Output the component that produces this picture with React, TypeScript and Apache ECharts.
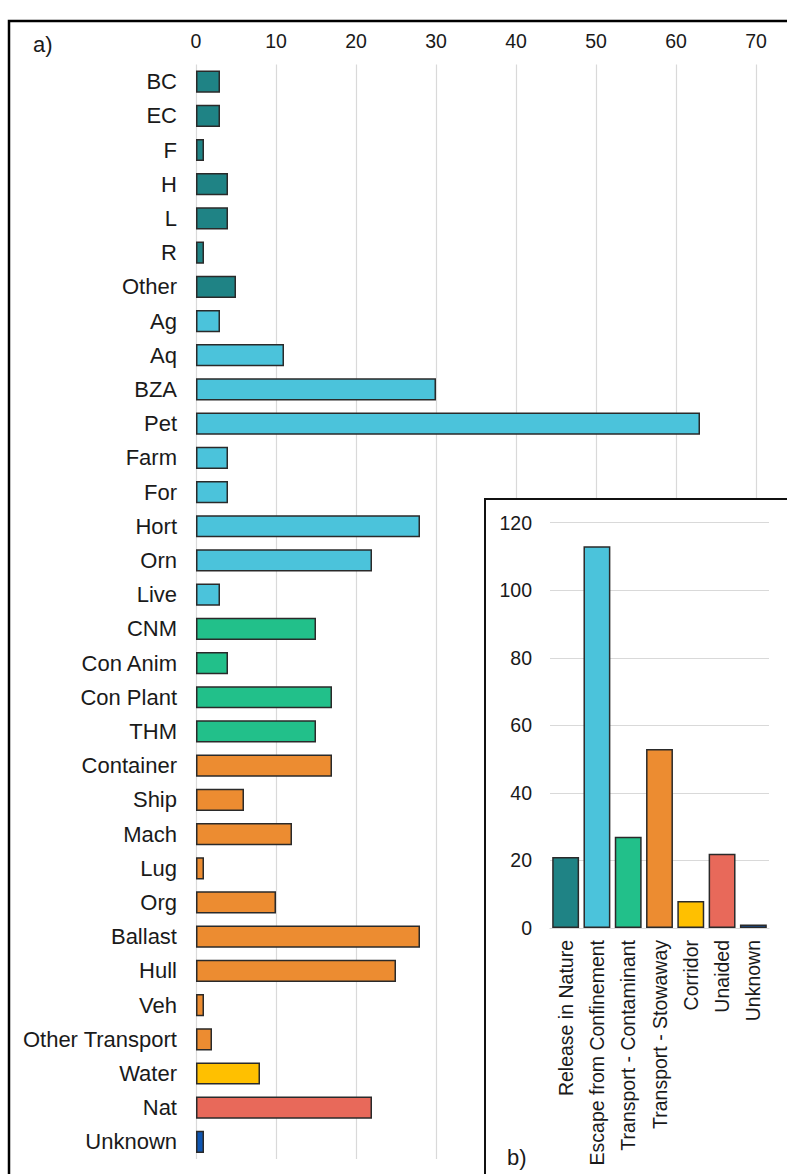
import React, { useEffect, useRef } from "react";
import * as echarts from "echarts";

// Pathway groups and their fill colours
const groupColors = ["#1F8385", "#4BC3DB", "#22C08A", "#EC8C31", "#FFC000", "#E8695A", "#0E56B2"];

// a) species counts per sub-pathway
const subCategories = [
  "BC", "EC", "F", "H", "L", "R", "Other",
  "Ag", "Aq", "BZA", "Pet", "Farm", "For", "Hort", "Orn", "Live",
  "CNM", "Con Anim", "Con Plant", "THM",
  "Container", "Ship", "Mach", "Lug", "Org", "Ballast", "Hull", "Veh", "Other Transport",
  "Water", "Nat", "Unknown",
];
const subValues = [
  3, 3, 1, 4, 4, 1, 5,
  3, 11, 30, 63, 4, 4, 28, 22, 3,
  15, 4, 17, 15,
  17, 6, 12, 1, 10, 28, 25, 1, 2,
  8, 22, 1,
];
const subGroups = [
  0, 0, 0, 0, 0, 0, 0,
  1, 1, 1, 1, 1, 1, 1, 1, 1,
  2, 2, 2, 2,
  3, 3, 3, 3, 3, 3, 3, 3, 3,
  4, 5, 6,
];
const subTicks = [0, 10, 20, 30, 40, 50, 60, 70];

// b) species counts per main pathway
const mainCategories = [
  "Release in Nature",
  "Escape from Confinement",
  "Transport - Contaminant",
  "Transport - Stowaway",
  "Corridor",
  "Unaided",
  "Unknown",
];
const mainValues = [21, 113, 27, 53, 8, 22, 1];
const mainTicks = [0, 20, 40, 60, 80, 100, 120];

const FONT = "'Liberation Sans', Arial, sans-serif";
const TEXT = "#1a1a1a";
const GRID_LINE = "#d9d9d9";
const BORDER = "#2a2a2a";

export default function App() {
  const ref = useRef<HTMLDivElement>(null);

  useEffect(() => {
    if (!ref.current) return;
    const chart = echarts.init(ref.current, undefined, { renderer: "svg" });

    const option = {
      animation: false,
      backgroundColor: "#ffffff",
      textStyle: { fontFamily: FONT },
      grid: [
        { left: 196, right: 31, top: 64.5, bottom: 15 },
        { left: 550, right: 18, top: 522.7, bottom: 246 },
      ],
      xAxis: [
        {
          type: "value",
          gridIndex: 0,
          position: "top",
          min: subTicks[0],
          max: subTicks[subTicks.length - 1],
          interval: 10,
          z: 0,
          axisLine: { show: false },
          axisTick: { show: false },
          axisLabel: { fontSize: 19.5, color: TEXT, fontFamily: FONT, margin: 14 },
          splitLine: { show: true, lineStyle: { color: GRID_LINE, width: 1.2 } },
        },
        {
          type: "category",
          gridIndex: 1,
          data: mainCategories,
          z: 3,
          axisLine: { show: true, lineStyle: { color: GRID_LINE, width: 1.2 } },
          axisTick: { show: false },
          axisLabel: {
            rotate: 90,
            interval: 0,
            fontSize: 19.5,
            color: TEXT,
            fontFamily: FONT,
            margin: 12,
          },
        },
      ],
      yAxis: [
        {
          type: "category",
          gridIndex: 0,
          data: subCategories,
          inverse: true,
          z: 0,
          axisLine: { show: false },
          axisTick: { show: false },
          axisLabel: { fontSize: 22, color: TEXT, fontFamily: FONT, margin: 19, interval: 0 },
          splitLine: { show: false },
        },
        {
          type: "value",
          gridIndex: 1,
          min: mainTicks[0],
          max: mainTicks[mainTicks.length - 1],
          interval: 20,
          z: 3,
          axisLine: { show: false },
          axisTick: { show: false },
          axisLabel: { fontSize: 19.5, color: TEXT, fontFamily: FONT, margin: 18 },
          splitLine: { show: true, lineStyle: { color: GRID_LINE, width: 1.2 } },
        },
      ],
      series: [
        {
          type: "bar",
          xAxisIndex: 0,
          yAxisIndex: 0,
          barCategoryGap: "35%",
          z: 2,
          data: subValues.map((v, i) => ({
            value: v,
            itemStyle: { color: groupColors[subGroups[i]] },
          })),
          itemStyle: { borderColor: BORDER, borderWidth: 1.5 },
        },
        {
          type: "bar",
          xAxisIndex: 1,
          yAxisIndex: 1,
          barCategoryGap: "14%",
          z: 4,
          data: mainValues.map((v, i) => ({
            value: v,
            itemStyle: { color: groupColors[i] },
          })),
          itemStyle: { borderColor: BORDER, borderWidth: 1.5 },
        },
      ],
      graphic: [
        // inset panel background and border
        {
          type: "rect",
          z: 1,
          shape: { x: 485, y: 499, width: 400, height: 800 },
          style: { fill: "#ffffff", stroke: "#111111", lineWidth: 2 },
        },
        // outer frame
        {
          type: "rect",
          z: 10,
          shape: { x: 9, y: 21, width: 900, height: 1300 },
          style: { fill: "none", stroke: "#000000", lineWidth: 2.5 },
        },
        {
          type: "text",
          z: 10,
          x: 33,
          y: 44,
          style: {
            text: "a)",
            fontSize: 22,
            fontFamily: FONT,
            fill: TEXT,
            verticalAlign: "middle",
          },
        },
        {
          type: "text",
          z: 10,
          x: 507,
          y: 1157,
          style: {
            text: "b)",
            fontSize: 22,
            fontFamily: FONT,
            fill: TEXT,
            verticalAlign: "middle",
          },
        },
      ],
    };

    chart.setOption(option);
    return () => chart.dispose();
  }, []);

  return (
    <div
      ref={ref}
      style={{ position: "absolute", left: 0, top: 0, width: 787, height: 1174 }}
    />
  );
}
